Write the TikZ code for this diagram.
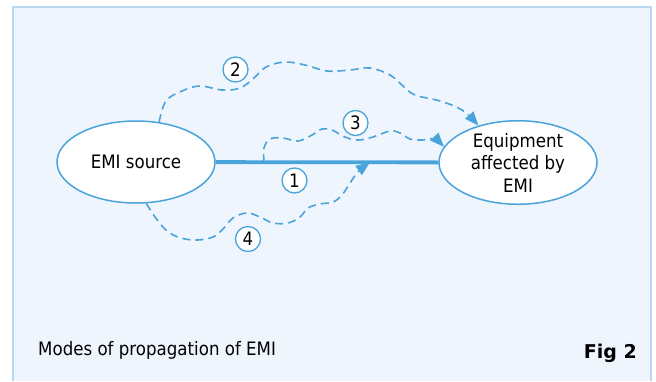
\documentclass[tikz,border=0pt]{standalone}
\usepackage{fontspec}
\setmainfont{DejaVu Sans}[FakeStretch=0.9]
\newfontfamily\figfont{DejaVu Sans}
\usetikzlibrary{shapes.geometric,arrows.meta}
\definecolor{emiblue}{HTML}{4AA3DA}
\definecolor{panelbg}{HTML}{EFF5FD}
\definecolor{panelline}{HTML}{B9D7F0}
\begin{document}
\begin{tikzpicture}[x=1bp,y=-1bp,
  ell/.style={ellipse, draw=emiblue, line width=1.5bp, fill=white, inner sep=0pt,
    minimum width=158bp, minimum height=82bp,
    font=\fontsize{18.5bp}{22.5bp}\selectfont, align=center},
  num/.style={circle, draw=emiblue, line width=1.3bp, fill=white, minimum size=25bp,
    inner sep=0pt, font=\fontsize{18.5bp}{20bp}\selectfont},
  wave/.style={draw=emiblue, line width=1.6bp, dash pattern=on 8bp off 5bp,
    -{Triangle[length=14bp,width=11bp]}},
  txt/.style={inner sep=0pt, font=\fontsize{18.5bp}{22bp}\selectfont}]
\useasboundingbox (0,0) rectangle (656,381);
\fill[panelbg] (13,7) rectangle (651,381);
\draw[panelline, line width=2bp] (13,381) -- (13,7) -- (651,7) -- (651,381);

\node[ell] (src) at (136,162) {EMI source};
\node[ell, minimum height=81bp] (dst) at (518,162.5) {Equipment\\affected by\\EMI};

\draw[emiblue, line width=3.8bp] (src) -- (dst);
\path (src.east) -- (dst.west) coordinate[pos=0.217] (c3) coordinate[pos=0.693] (c4);

\draw[wave] plot[smooth, tension=0.6] coordinates {(src.60) (166,101) (182,91) (200,86)
  (222,90) (240,88) (254,78) (266,67) (285,62) (305,65) (327,71) (350,70) (370,68)
  (390,75) (403,86) (415,95) (440,101) (462,110) (dst.137)};
\draw[wave] plot[smooth, tension=0.6] coordinates {(c3) (264,148) (270,139) (283,138)
  (298,141) (312,135) (322,129) (332,130) (345,137) (358,140) (373,137) (390,131)
  (400,133) (410,139) (422,140) (434,139) (dst.168)};
\draw[wave] plot[smooth, tension=0.6] coordinates {(src.284) (155,217) (167,231) (181,238)
  (197,240) (213,237) (223,229) (233,218) (247,213) (260,217) (273,223) (288,223)
  (300,217) (308,208) (320,204) (333,202) (342,195) (350,183) (358,172) (c4)};

\node[num] (n1) at (294.5,180.5) {1};
\node[num] (n2) at (235.5,69.5) {2};
\node[num] (n3) at (355.5,123) {3};
\node[num] (n4) at (248,239) {4};

\node[txt, anchor=base west] (cap) at (38,355) {Modes of propagation of EMI};
\node[inner sep=0pt, anchor=base east, font=\figfont\bfseries\fontsize{19bp}{22bp}\selectfont] (fig) at (637,358) {Fig 2};
\end{tikzpicture}
\end{document}
